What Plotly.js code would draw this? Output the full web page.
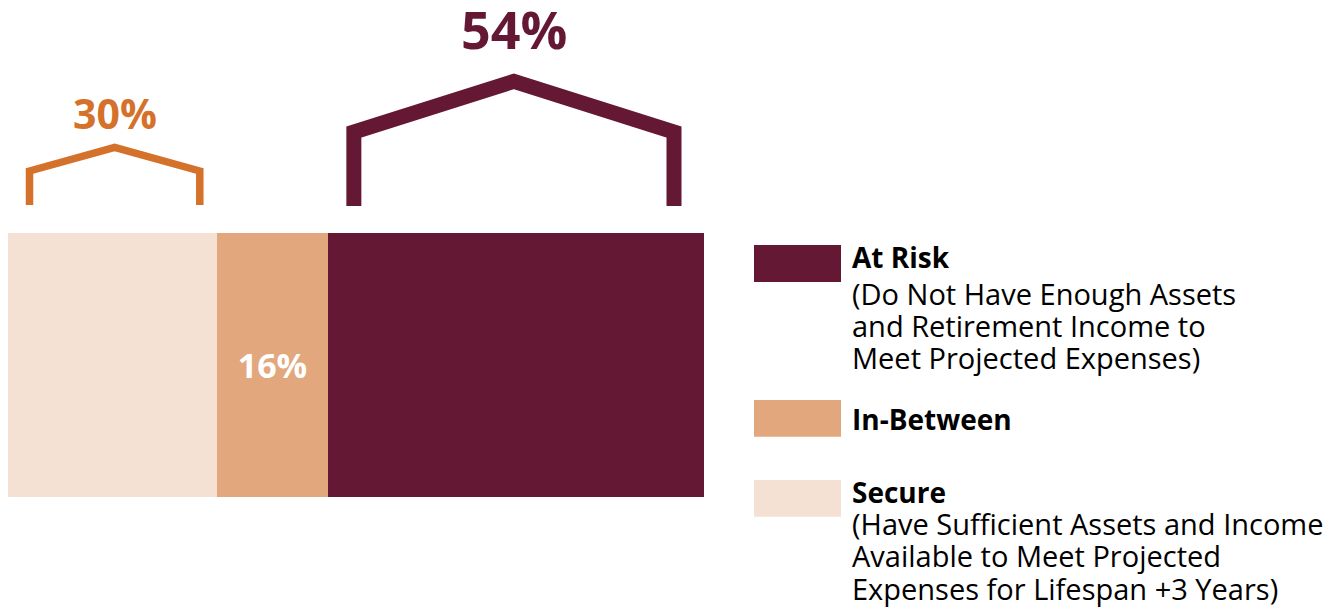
<!DOCTYPE html>
<html>
<head>
<meta charset="utf-8">
<script src="https://cdn.plot.ly/plotly-3.0.1.min.js"></script>
<style>html,body{margin:0;padding:0;background:#fff;}#chart{width:1342px;height:613px;}</style>
</head>
<body>
<div id="chart"></div>
<script>
// ---- data ----
const categories = ['Secure', 'In-Between', 'At Risk'];
const values = [30, 16, 54];
const valueLabels = ['30%', '16%', '54%'];
const legendTitles = ['At Risk', 'In-Between', 'Secure'];
const legendDescriptions = [
  ['(Do Not Have Enough Assets', 'and Retirement Income to', 'Meet Projected Expenses)'],
  [],
  ['(Have Sufficient Assets and Income', 'Available to Meet Projected', 'Expenses for Lifespan +3 Years)']
];

// ---- styles ----
const colors = {'Secure': '#F5E1D3', 'In-Between': '#E2A77C', 'At Risk': '#641834'};
const bracketColors = {'Secure': '#D4712A', 'At Risk': '#641834'};
const FONT = 'Open Sans, Noto Sans, sans-serif';
const TITLE_PX = 28, DESC_PX = 29;

// ---- geometry helpers (pixel layout -> axis / paper units) ----
const W = 1342, H = 613, L = 8, R = 704, plotW = R - L;
const barTop = 233.3, barBot = 496.7, unit = barBot - barTop;
const yTop = 0.5 + barTop / unit, yBot = -0.5 - (H - barBot) / unit;
const py = px => yTop - px / unit;
const dx = px => px / plotW * 100;
const paperX = px => (px - L) / plotW;
const paperY = px => 1 - px / H;

// cumulative positions
const starts = [];
let acc = 0;
values.forEach(v => { starts.push(acc); acc += v; });

const traces = categories.map((c, i) => ({
  type: 'bar', orientation: 'h',
  x: [values[i]], y: [0], width: [1],
  marker: {color: colors[c], line: {width: 0}},
  text: c === 'In-Between' ? [valueLabels[i]] : [''],
  textposition: 'inside', insidetextanchor: 'middle',
  textfont: {family: FONT, size: 34, color: '#ffffff', weight: 'bold'},
  hoverinfo: 'skip', showlegend: false
}));

// bracket styles: insets (px) from segment edges, y pixel levels, line width
const bracketStyle = {
  'Secure': {inL: 21.5, inR: 17, foot: 205, shoulder: 171, peak: 147.5, lw: 7.5, labelY: 112.5, size: 41},
  'At Risk': {inL: 25.7, inR: 30, foot: 206, shoulder: 132, peak: 81.3, lw: 15, labelY: 28, size: 52}
};

const annotations = [];
Object.keys(bracketStyle).forEach(c => {
  const i = categories.indexOf(c);
  const s = bracketStyle[c];
  const x0 = starts[i] + dx(s.inL);
  const x1 = starts[i] + values[i] - dx(s.inR);
  const xm = (x0 + x1) / 2;
  traces.push({
    type: 'scatter', mode: 'lines',
    x: [x0, x0, xm, x1, x1],
    y: [py(s.foot), py(s.shoulder), py(s.peak), py(s.shoulder), py(s.foot)],
    line: {color: bracketColors[c], width: s.lw},
    hoverinfo: 'skip', showlegend: false
  });
  annotations.push({
    xref: 'x', yref: 'y', x: xm, y: py(s.labelY),
    xanchor: 'center', yanchor: 'middle', showarrow: false,
    text: valueLabels[i],
    font: {family: FONT, size: s.size, color: bracketColors[c], weight: 'bold'}
  });
});

// legend (custom): swatches + text blocks
const swatch = [[245, 282], [400, 436.7], [480, 516.7]];
const span = (t, px, bold) => '<span style="font-size:' + px + 'px">' + (bold ? '<b>' + t + '</b>' : t) + '</span>';
const blocks = [
  [{title: true, lines: 0, cy: 256.7, gap: 36}, {title: false, lines: [0, 1, 2], cy: 325.8, gap: 32.2}],
  [{title: true, lines: 0, cy: 419.2, gap: 36}],
  [{title: true, lines: [0, 1, 2], cy: 540.8, gap: 32.2}]
];
const shapes = [];
legendTitles.forEach((t, k) => {
  shapes.push({
    type: 'rect', xref: 'paper', yref: 'paper',
    x0: paperX(754), x1: paperX(841),
    y0: paperY(swatch[k][1]), y1: paperY(swatch[k][0]),
    fillcolor: colors[t], line: {width: 0}
  });
  blocks[k].forEach(b => {
    const parts = [];
    if (b.title) parts.push(span(t, TITLE_PX, true));
    if (Array.isArray(b.lines)) b.lines.forEach(j => parts.push(span(legendDescriptions[k][j], DESC_PX, false)));
    annotations.push({
      xref: 'paper', yref: 'paper', x: paperX(850), y: paperY(b.cy),
      xanchor: 'left', yanchor: 'middle', align: 'left', showarrow: false,
      text: parts.join('<br>'),
      font: {family: FONT, size: b.gap / 1.3, color: '#000000'}
    });
  });
});

const layout = {
  width: W, height: H,
  margin: {l: L, r: W - R, t: 0, b: 0, pad: 0},
  paper_bgcolor: '#ffffff', plot_bgcolor: '#ffffff',
  barmode: 'stack', showlegend: false,
  font: {family: FONT},
  xaxis: {range: [0, 100], visible: false, fixedrange: true},
  yaxis: {range: [yBot, yTop], visible: false, fixedrange: true},
  shapes: shapes, annotations: annotations
};

Plotly.newPlot('chart', traces, layout, {staticPlot: true, displayModeBar: false});
</script>
</body>
</html>
